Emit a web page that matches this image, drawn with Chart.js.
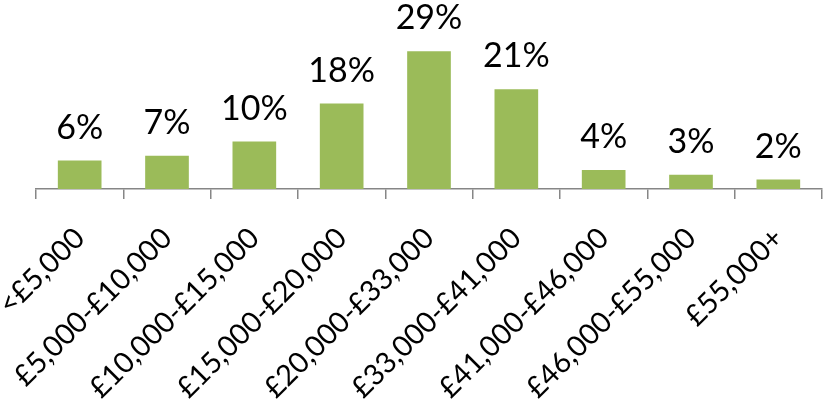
<!DOCTYPE html>
<html lang="en">
<head>
    <meta charset="UTF-8">
    <title>Salary bands</title>
    <script src="https://cdn.jsdelivr.net/npm/chart.js"></script>
    <style>
        html, body {
            margin: 0;
            padding: 0;
            background: #ffffff;
        }

        #chartContainer {
            position: relative;
            width: 823px;
            height: 400px;
        }
    </style>
</head>
<body>
    <div id="chartContainer">
        <canvas id="salaryChart"></canvas>
    </div>

    <script>
        // salary bands and share of people in each
        const bands = ['<£5,000', '£5,000-£10,000', '£10,000-£15,000', '£15,000-£20,000',
            '£20,000-£33,000', '£33,000-£41,000', '£41,000-£46,000', '£46,000-£55,000', '£55,000+'];
        const shares = [6, 7, 10, 18, 29, 21, 4, 3, 2];

        const FONT = 'Lato, "Open Sans", sans-serif';

        // percentage above each bar
        const valueLabels = {
            id: 'valueLabels',
            afterDatasetsDraw(chart) {
                const ctx = chart.ctx;
                const meta = chart.getDatasetMeta(0);
                ctx.save();
                ctx.font = '34px ' + FONT;
                ctx.fillStyle = '#000000';
                ctx.textAlign = 'center';
                ctx.textBaseline = 'alphabetic';
                meta.data.forEach((bar, i) => {
                    ctx.fillText(shares[i] + '%', bar.x, bar.y - 22);
                });
                ctx.restore();
            }
        };

        const ctx = document.getElementById('salaryChart').getContext('2d');
        const salaryChart = new Chart(ctx, {
            type: 'bar',
            data: {
                labels: bands,
                datasets: [{
                    data: shares,
                    backgroundColor: '#9bbb59',
                    borderWidth: 0,
                    categoryPercentage: 1,
                    barPercentage: 0.5
                }]
            },
            options: {
                responsive: true,
                maintainAspectRatio: false,
                animation: false,
                layout: {
                    padding: { top: 18, left: 36, right: 1, bottom: 0 }
                },
                scales: {
                    x: {
                        grid: {
                            offset: true,
                            drawOnChartArea: false,
                            drawTicks: true,
                            tickLength: 10,
                            color: '#868686',
                            lineWidth: 1.5
                        },
                        border: {
                            display: true,
                            color: '#868686',
                            width: 1.5
                        },
                        ticks: {
                            color: '#000000',
                            font: { family: FONT, size: 29 },
                            minRotation: 45,
                            maxRotation: 45,
                            autoSkip: false,
                            padding: 22
                        },
                        afterFit(scale) {
                            scale.height = 211;
                            scale.paddingLeft = 0;
                            scale.paddingRight = 0;
                        }
                    },
                    y: {
                        display: false,
                        min: 0,
                        max: 36
                    }
                },
                plugins: {
                    legend: { display: false },
                    tooltip: { enabled: false }
                }
            },
            plugins: [valueLabels]
        });
    </script>
</body>
</html>
